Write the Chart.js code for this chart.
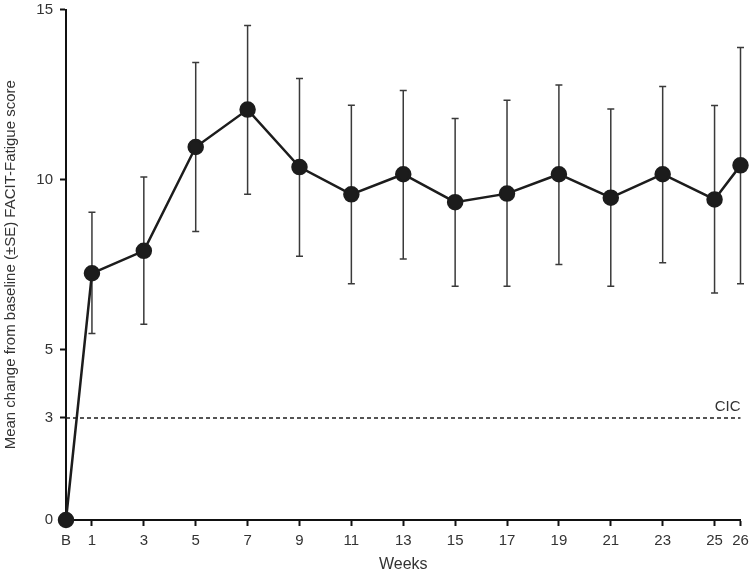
<!DOCTYPE html>
<html>
<head>
<meta charset="utf-8">
<script src="https://cdn.jsdelivr.net/npm/chart.js@4"></script>
<style>
  html, body { margin: 0; padding: 0; background: #fff; }
  #wrap { width: 750px; height: 574px; }
</style>
</head>
<body>
<div id="wrap"><canvas id="myChart" width="750" height="574"></canvas></div>
<script>
// weeks (0 = baseline "B")
const weeks = [0, 1, 3, 5, 7, 9, 11, 13, 15, 17, 19, 21, 23, 25, 26];
const meanChange = [0, 7.25, 7.91, 10.96, 12.06, 10.37, 9.57, 10.16, 9.34, 9.59, 10.16, 9.47, 10.16, 9.42, 10.42];
const upperSE = [null, 9.04, 10.08, 13.44, 14.53, 12.97, 12.19, 12.62, 11.80, 12.33, 12.78, 12.08, 12.74, 12.18, 13.88];
const lowerSE = [null, 5.48, 5.75, 8.48, 9.57, 7.75, 6.94, 7.67, 6.87, 6.87, 7.51, 6.87, 7.56, 6.67, 6.94];
const xTicks = [0, 1, 3, 5, 7, 9, 11, 13, 15, 17, 19, 21, 23, 25, 26];
const yTicks = [0, 3, 5, 10, 15];
const cicValue = 3;
const cicLabel = 'CIC';

const points = weeks.map((w, i) => ({ x: w, y: meanChange[i] }));
const font = "'Liberation Sans', Arial, sans-serif";

// draws the SE whiskers under the points
const errorBars = {
    id: 'errorBars',
    beforeDatasetsDraw(chart) {
        const ctx = chart.ctx;
        const xs = chart.scales.x, ys = chart.scales.y;
        ctx.save();
        ctx.strokeStyle = '#3a3a3a';
        ctx.lineWidth = 1.5;
        weeks.forEach((w, i) => {
            if (upperSE[i] == null) return;
            const px = xs.getPixelForValue(w);
            const top = ys.getPixelForValue(upperSE[i]);
            const bot = ys.getPixelForValue(lowerSE[i]);
            ctx.beginPath();
            ctx.moveTo(px, top); ctx.lineTo(px, bot);
            ctx.moveTo(px - 3.5, top); ctx.lineTo(px + 3.5, top);
            ctx.moveTo(px - 3.5, bot); ctx.lineTo(px + 3.5, bot);
            ctx.stroke();
        });
        // CIC label
        ctx.fillStyle = '#333';
        ctx.font = '15px ' + font;
        ctx.textAlign = 'right';
        ctx.textBaseline = 'bottom';
        ctx.fillText(cicLabel, xs.getPixelForValue(26), ys.getPixelForValue(cicValue) - 4);
        ctx.restore();
    }
};

const ctx = document.querySelector('#myChart').getContext('2d');
const myChart = new Chart(ctx, {
    type: 'line',
    data: {
        datasets: [{
            data: points,
            borderColor: '#1c1c1c',
            backgroundColor: '#1c1c1c',
            borderWidth: 2.5,
            pointRadius: 7,
            pointHoverRadius: 7,
            tension: 0,
            clip: false
        }, {
            data: [{ x: 0, y: cicValue }, { x: 26, y: cicValue }],
            borderColor: '#1c1c1c',
            borderWidth: 1.5,
            borderDash: [4, 3],
            pointRadius: 0,
            clip: false
        }]
    },
    options: {
        responsive: false,
        animation: false,
        layout: { padding: { top: 8, right: 9, left: 0, bottom: 0 } },
        plugins: { legend: { display: false }, tooltip: { enabled: false } },
        scales: {
            x: {
                type: 'linear',
                min: 0,
                max: 26,
                afterBuildTicks: (s) => { s.ticks = xTicks.map(v => ({ value: v })); },
                afterFit: (s) => { s.height = 54; s.paddingLeft = 0; s.paddingRight = 0; },
                ticks: {
                    color: '#333',
                    font: { family: font, size: 15 },
                    padding: 6,
                    maxRotation: 0,
                    autoSkip: false,
                    callback: (v) => v === 0 ? 'B' : v
                },
                grid: { drawOnChartArea: false, tickLength: 6, tickColor: '#111', tickWidth: 2 },
                border: { color: '#111', width: 2 },
                title: { display: true, text: 'Weeks', color: '#333', font: { family: font, size: 16 }, padding: { top: 0, bottom: 0 } }
            },
            y: {
                min: 0,
                max: 15,
                afterBuildTicks: (s) => { s.ticks = yTicks.map(v => ({ value: v })); },
                afterFit: (s) => { s.width = 66; s.paddingTop = 0; s.paddingBottom = 0; },
                ticks: { color: '#333', font: { family: font, size: 15 }, padding: 7 },
                grid: { drawOnChartArea: false, tickLength: 6, tickColor: '#111', tickWidth: 2 },
                border: { color: '#111', width: 2 },
                title: {
                    display: true,
                    text: 'Mean change from baseline (±SE) FACIT-Fatigue score',
                    color: '#333',
                    font: { family: font, size: 15 },
                    padding: { top: 2, bottom: 0 }
                }
            }
        }
    },
    plugins: [errorBars]
});
</script>
</body>
</html>
